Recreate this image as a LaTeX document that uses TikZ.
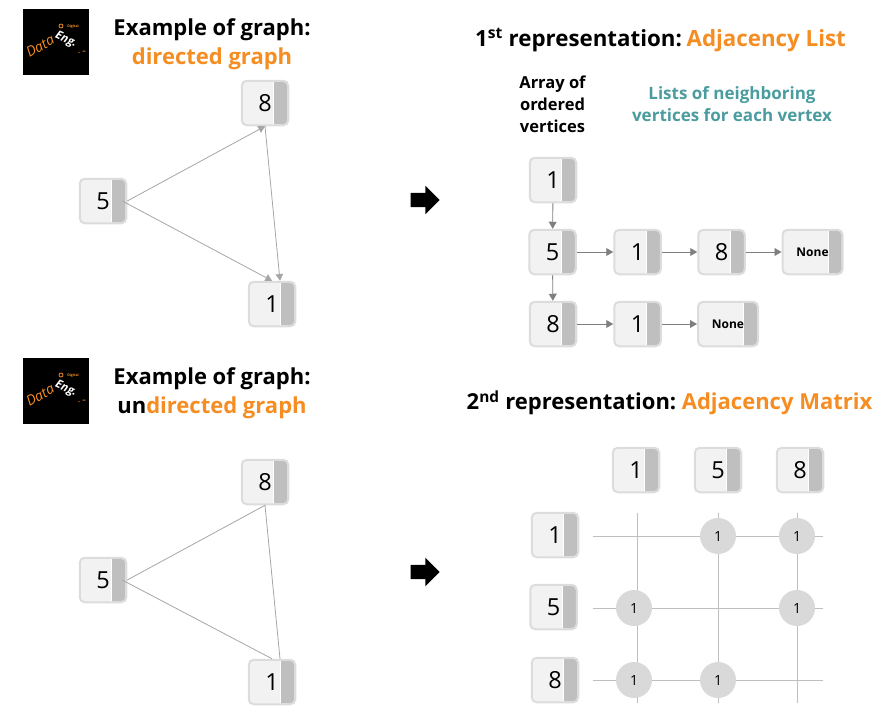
\documentclass[tikz,border=0pt]{standalone}
\usepackage{fontspec}
\setmainfont{Open Sans}
\usetikzlibrary{arrows,calc,positioning,shapes.arrows}
\definecolor{orangetxt}{HTML}{F58D22}
\definecolor{tealtxt}{HTML}{4A9C9F}
\definecolor{boxfill}{HTML}{F2F2F2}
\definecolor{boxline}{HTML}{DCDCDC}
\definecolor{bandgray}{HTML}{BFBFBF}
\definecolor{cellgray}{HTML}{D9D9D9}
\definecolor{edgegray}{HTML}{A6A6A6}
\definecolor{listgray}{HTML}{7F7F7F}
\tikzset{
  vertex/.style={draw=boxline,line width=2pt,fill=boxfill,rounded corners=5pt,inner sep=0pt,
    minimum width=46.5pt,minimum height=44.5pt,font=\fontsize{23.5}{24}\selectfont,
    path picture={
      \fill[bandgray,sharp corners] ([xshift=-14.5pt,yshift=-1pt]path picture bounding box.north east)
        [rounded corners=4pt] -- ([xshift=-1pt,yshift=-1pt]path picture bounding box.north east)
        -- ([xshift=-1pt,yshift=1pt]path picture bounding box.south east)
        [sharp corners] -- ([xshift=-14.5pt,yshift=1pt]path picture bounding box.south east) -- cycle;
      \draw[white,line width=0.8pt,sharp corners] ([xshift=-14.5pt]path picture bounding box.north east) -- ([xshift=-14.5pt]path picture bounding box.south east);
    }},
  nonebox/.style={vertex,minimum width=60pt,font=\fontsize{12}{12}\selectfont\bfseries},
  cell/.style={circle,fill=cellgray,inner sep=0pt,minimum size=36pt,font=\fontsize{14}{14}\selectfont},
  head/.style={font=\fontsize{22}{26}\selectfont\bfseries,align=center},
  subhead/.style={font=\fontsize{16.5}{22}\selectfont\bfseries,align=center},
  edge/.style={edgegray,line width=0.8pt},
  listedge/.style={->,listgray,line width=0.9pt},
  gridline/.style={bandgray,line width=0.9pt},
  bigarrow/.style={single arrow,fill=black,inner xsep=0pt,inner ysep=7pt,minimum height=29pt,single arrow head extend=7pt,single arrow tip angle=90}
}
\begin{document}
\begin{tikzpicture}[x=1pt,y=-1pt,>=triangle 60]
\useasboundingbox (0,0) rectangle (890,717);

% logos
\foreach \y/\l in {42/a,391/b}
{
  \node[fill=black,minimum size=66pt,inner sep=0pt] (logo\l) at (56,\y) {};
  \node[rotate=30,inner sep=0pt,text=orangetxt,font=\fontsize{14}{14}\selectfont\itshape] (data\l) at (40,\y+4) {Data};
  \node[rotate=-25,inner sep=0pt,text=white,font=\fontsize{11.5}{12}\selectfont\bfseries\itshape] (eng\l) at (66,\y-2) {Eng.};
  \node[inner sep=0pt,text=orangetxt,font=\fontsize{3.5}{4}\selectfont\bfseries] (digital\l) at (73,\y-15) {Digital};
  \node[draw=orangetxt,circle,line width=0.8pt,inner sep=0pt,minimum size=4pt] (dot\l) at (61,\y-16) {};
  \node[inner sep=0pt,text=orangetxt,font=\fontsize{7}{7}\selectfont\bfseries] (dash\l) at (82,\y+10) {. --};
}

% titles
\node[head] (title1) at (212,44) {Example of graph:\\[3.5pt]\textcolor{orangetxt}{directed graph}};
\node[head] (title2) at (212,393) {Example of graph:\\[3.5pt]un\textcolor{orangetxt}{directed graph}};
\node[head,font=\fontsize{22.3}{26}\selectfont\bfseries] (rep1) at (660.5,40) {1\textsuperscript{st} representation:\hspace{-3pt} \textcolor{orangetxt}{Adjacency List}};
\node[head] (rep2) at (669.5,403) {2\textsuperscript{nd} representation:\hspace{-2pt} \textcolor{orangetxt}{Adjacency Matrix}};
\node[subhead] (arrlabel) at (552.5,104) {Array of\\ordered\\vertices};
\node[subhead,font=\fontsize{17}{22}\selectfont\bfseries,text=tealtxt] (listlabel) at (732,104) {Lists of neighboring\\vertices for each vertex};

% directed graph
\node[vertex] (a5) at (103,201) {5};
\node[vertex] (a8) at (265,103) {8};
\node[vertex] (a1) at (272,304) {1};
\draw[edge,->] (a5.east) -- (a8.south);
\draw[edge,->] ([xshift=-5pt]a5.east) -- (a1.north);
\draw[edge,->] (a8.south) -- ([xshift=8pt]a1.north);

% undirected graph
\node[vertex] (b5) at (103,580) {5};
\node[vertex] (b8) at (265,482) {8};
\node[vertex] (b1) at (272,682) {1};
\draw[edge] (b5.east) -- (b8.south);
\draw[edge] ([xshift=-5pt]b5.east) -- (b1.north);
\draw[edge] (b8.south) -- ([xshift=8pt]b1.north);

% big arrows
\node[bigarrow] (go1) at (421.5,200) {};
\node[bigarrow] (go2) at (421.5,572) {};

% adjacency list
\node[vertex] (arr1) at (553,180) {1};
\node[vertex] (arr5) at (552.5,252) {5};
\node[vertex] (arr8) at (553,324) {8};
\node[vertex] (l51) at (637.5,252) {1};
\node[vertex] (l58) at (721.5,252) {8};
\node[nonebox] (l5n) at (812.5,252) {None};
\node[vertex] (l81) at (637.5,324) {1};
\node[nonebox] (l8n) at (728,324) {None};
\foreach \p/\q in {arr1/arr5,arr5/arr8}
  \draw[listedge] (\p) -- (\q);
\foreach \p/\q in {arr5/l51,l51/l58,l58/l5n,arr8/l81,l81/l8n}
  \draw[listedge] (\p.east) -- (\q.west);

% adjacency matrix
\foreach \x/\n in {637/c1,718/c2,797/c3}
{
  \coordinate (\n t) at (\x,513);
  \coordinate (\n b) at (\x,703);
  \draw[gridline] (\n t) -- (\n b);
}
\foreach \y/\n in {536/r1,608/r2,680/r3}
{
  \coordinate (\n l) at (593,\y);
  \coordinate (\n r) at (823,\y);
  \draw[gridline] (\n l) -- (\n r);
}
\foreach \x/\v in {636/1,718/5,800/8}
  \node[vertex] (top\v) at (\x,470) {\v};
\node[vertex] (left1) at (555,535) {1};
\node[vertex] (left5) at (553.5,607) {5};
\node[vertex] (left8) at (555,680) {8};
\foreach \x/\y/\n in {718/536/m12,797/536/m13,634/608/m21,797/608/m23,634/680/m31,718/680/m32}
  \node[cell] (\n) at (\x,\y) {1};
\end{tikzpicture}
\end{document}
